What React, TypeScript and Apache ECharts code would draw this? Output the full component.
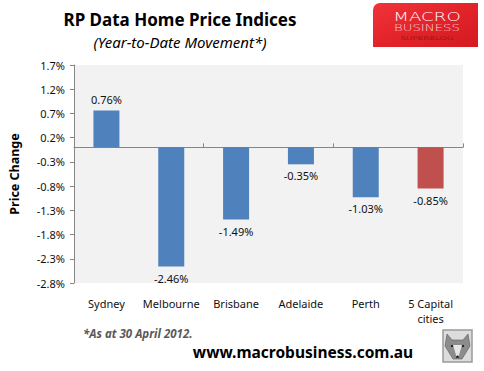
import React, { useEffect, useRef } from "react";
import * as echarts from "echarts";

const categories = ["Sydney", "Melbourne", "Brisbane", "Adelaide", "Perth", "5 Capital\ncities"];
const values = [0.76, -2.46, -1.49, -0.35, -1.03, -0.85];
const barColors = ["#4F81BD", "#4F81BD", "#4F81BD", "#4F81BD", "#4F81BD", "#C0504D"];
const yMin = -2.8;
const yMax = 1.7;
const yInterval = 0.5;

const titleText = "RP Data Home Price Indices";
const subtitleText = "(Year-to-Date Movement*)";
const yAxisName = "Price Change";
const footnoteText = "*As at 30 April 2012.";
const urlText = "www.macrobusiness.com.au";

const FONT = "'Noto Sans', 'Open Sans', sans-serif";

function txt(text: string, x: number, y: number, s: any, extra: any = {}) {
  return {
    type: "text",
    x,
    y,
    ...extra,
    style: {
      text,
      fontFamily: FONT,
      align: "center",
      verticalAlign: "middle",
      textAlign: "center",
      textVerticalAlign: "middle",
      ...s,
    },
  };
}

export default function App() {
  const ref = useRef<HTMLDivElement>(null);

  useEffect(() => {
    document.body.style.margin = "0";
    const chart = echarts.init(ref.current!, null, { renderer: "svg" });
    const option: any = {
      animation: false,
      backgroundColor: "#ffffff",
      textStyle: { fontFamily: FONT },
      grid: {
        left: 67,
        top: 65,
        right: 21,
        bottom: 88,
        show: true,
        backgroundColor: "#F2F2F2",
        borderWidth: 0,
      },
      xAxis: [
        {
          type: "category",
          data: categories,
          position: "bottom",
          axisLine: { show: true, onZero: true, lineStyle: { color: "#868686", width: 1 } },
          axisTick: { show: true, inside: true, length: 4, lineStyle: { color: "#868686" } },
          axisLabel: { show: false },
          splitLine: { show: false },
        },
        {
          type: "category",
          data: categories,
          position: "bottom",
          axisLine: { show: false, onZero: false },
          axisTick: { show: false },
          axisLabel: {
            show: true,
            interval: 0,
            margin: 13,
            fontSize: 11,
            lineHeight: 15,
            color: "#111",
            fontFamily: FONT,
          },
          splitLine: { show: false },
        },
      ],
      yAxis: {
        type: "value",
        min: yMin,
        max: yMax,
        interval: yInterval,
        axisLine: { show: true, lineStyle: { color: "#868686", width: 1 } },
        axisTick: { show: true, length: 4, lineStyle: { color: "#868686" } },
        splitLine: { show: false },
        axisLabel: {
          margin: 9,
          fontSize: 11,
          color: "#111",
          fontFamily: FONT,
          formatter: (v: number) => v.toFixed(1) + "%",
        },
        name: yAxisName,
        nameLocation: "middle",
        nameGap: 53,
        nameTextStyle: { fontSize: 12.5, fontWeight: "bold", color: "#000", fontFamily: FONT },
      },
      series: [
        {
          type: "bar",
          xAxisIndex: 0,
          barWidth: 26,
          data: values.map((v, i) => ({
            value: v,
            itemStyle: { color: barColors[i] },
            label: { position: v >= 0 ? "top" : "bottom" },
          })),
          label: {
            show: true,
            distance: 6,
            fontSize: 11,
            color: "#111",
            fontFamily: FONT,
            formatter: (p: any) => p.value.toFixed(2) + "%",
          },
        },
      ],
      graphic: [
        txt(titleText, 180, 19, { fontSize: 17, fontWeight: "bold", fill: "#000" }),
        txt(subtitleText, 180, 42, { fontSize: 15, fontStyle: "italic", fill: "#000" }),
        txt(footnoteText, 83, 333, {
          fontSize: 11.5,
          fontWeight: "bold",
          fontStyle: "italic",
          fill: "#595959",
          align: "left",
          textAlign: "left",
        }),
        txt(urlText, 303, 352, { fontSize: 15.5, fontWeight: "bold", fill: "#000" }),
        // logo
        {
          type: "rect",
          shape: { x: 373, y: 3, width: 105, height: 44, r: [7, 0, 0, 0] },
          style: {
            fill: new echarts.graphic.LinearGradient(0, 0, 1, 1, [
              { offset: 0, color: "#F0343A" },
              { offset: 0.5, color: "#E3232A" },
              { offset: 1, color: "#D41A22" },
            ]),
          },
        },
        txt("MACRO", 427, 16, { fontSize: 13, fontWeight: 200, fill: "#ffffff", fontFamily: "'DejaVu Sans', sans-serif" }, {
          scaleX: 1.4,
        }),
        txt("BUSINESS", 427, 28, { fontSize: 9.5, fontWeight: 200, fill: "#FBD3D4", fontFamily: "'DejaVu Sans', sans-serif" }, {
          scaleX: 1.4,
        }),
        txt("SUPERBLOG", 427, 38, { fontSize: 5, fill: "#A3141A", fontFamily: "'DejaVu Sans', sans-serif" }, {
          scaleX: 1.75,
        }),
        // wolf badge
        {
          type: "rect",
          shape: { x: 443, y: 330, width: 29, height: 32 },
          style: { fill: "#DCDCDC", stroke: "#9A9A9A", lineWidth: 1.5 },
        },
        {
          type: "polygon",
          shape: {
            points: [
              [447, 334], [452, 340], [463, 340], [468, 334], [470, 346], [462, 359], [453, 359], [445, 346],
            ],
          },
          style: { fill: "#8C8C8C", stroke: "#5A5A5A", lineWidth: 0.6 },
        },
        {
          type: "polygon",
          shape: { points: [[453, 345], [457.5, 360], [462, 345]] },
          style: { fill: "#E6E6E6" },
        },
        { type: "circle", shape: { cx: 452, cy: 346, r: 1.2 }, style: { fill: "#222" } },
        { type: "circle", shape: { cx: 463, cy: 346, r: 1.2 }, style: { fill: "#222" } },
        { type: "circle", shape: { cx: 457.5, cy: 357, r: 1.4 }, style: { fill: "#222" } },
      ],
    };
    chart.setOption(option);
    return () => chart.dispose();
  }, []);

  return <div ref={ref} style={{ width: 484, height: 371 }} />;
}
